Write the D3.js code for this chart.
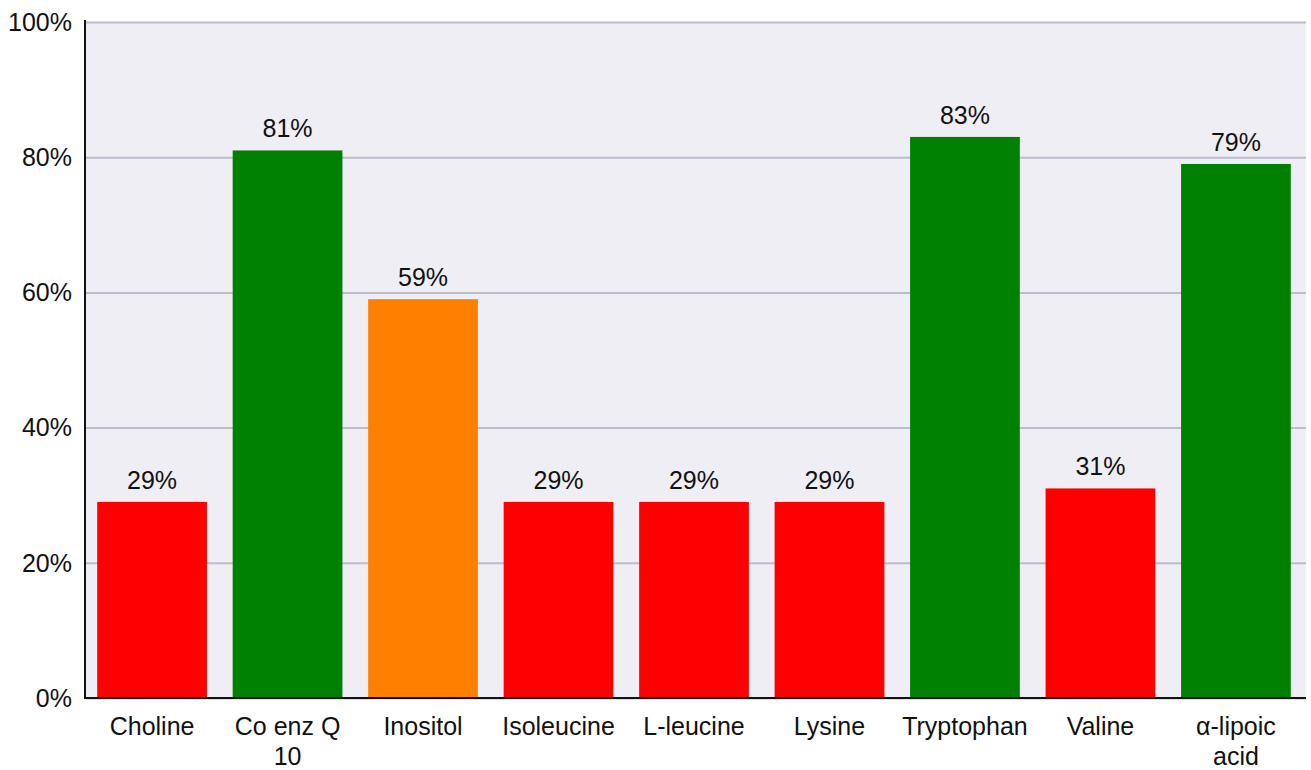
<!DOCTYPE html>
<html>
<head>
<meta charset="utf-8">
<script src="https://d3js.org/d3.v7.min.js"></script>
<style>
body{margin:0;background:#fff;font-family:"Liberation Sans",Arial,sans-serif;}
</style>
</head>
<body>
<svg id="chart" width="1311" height="770"></svg>
<script>
var categories = ["Choline", "Co enz Q 10", "Inositol", "Isoleucine", "L-leucine", "Lysine", "Tryptophan", "Valine", "\u03b1-lipoic acid"];
var labelLines = [["Choline"], ["Co enz Q", "10"], ["Inositol"], ["Isoleucine"], ["L-leucine"], ["Lysine"], ["Tryptophan"], ["Valine"], ["\u03b1-lipoic", "acid"]];
var values = [29, 81, 59, 29, 29, 29, 83, 31, 79];
var barColors = ["#ff0000", "#008000", "#ff8000", "#ff0000", "#ff0000", "#ff0000", "#008000", "#ff0000", "#008000"];
var yTicks = [0, 20, 40, 60, 80, 100];

var svg = d3.select("#chart");
var plotL = 85, plotR = 1306, plotT = 22, plotB = 698;
var fs = 25;

var x = d3.scaleBand().domain(categories).range([plotL, plotR - 3]).paddingInner(0.19).paddingOuter(0.09);
var y = d3.scaleLinear().domain([0, 100]).range([plotB, plotT]);

svg.append("rect").attr("x", plotL).attr("y", plotT).attr("width", plotR - plotL).attr("height", plotB - plotT).attr("fill", "#efeef4");

// gridlines
svg.append("g").selectAll("line").data(yTicks).enter().append("line")
  .attr("x1", plotL).attr("x2", plotR)
  .attr("y1", function(d){ return y(d) + 0.5; }).attr("y2", function(d){ return y(d) + 0.5; })
  .attr("stroke", "#bcbccf").attr("stroke-width", 2);

// tick labels
svg.append("g").selectAll("text").data(yTicks).enter().append("text")
  .attr("x", 72).attr("y", function(d){ return y(d); })
  .attr("dy", "0.35em").attr("text-anchor", "end")
  .attr("font-size", fs).attr("fill", "#111")
  .text(function(d){ return d + "%"; });

// bars
svg.append("g").selectAll("rect").data(values).enter().append("rect")
  .attr("x", function(d, i){ return x(categories[i]); })
  .attr("y", function(d){ return y(d); })
  .attr("width", x.bandwidth())
  .attr("height", function(d){ return y(0) - y(d); })
  .attr("fill", function(d, i){ return barColors[i]; });

// value labels
svg.append("g").selectAll("text").data(values).enter().append("text")
  .attr("x", function(d, i){ return x(categories[i]) + x.bandwidth() / 2; })
  .attr("y", function(d){ return y(d) - 13; })
  .attr("text-anchor", "middle").attr("font-size", fs).attr("fill", "#111")
  .text(function(d){ return d + "%"; });

// axes lines
svg.append("line").attr("x1", plotL).attr("x2", plotL).attr("y1", plotT - 2).attr("y2", plotB + 1)
  .attr("stroke", "#111").attr("stroke-width", 2);
svg.append("line").attr("x1", plotL).attr("x2", plotR).attr("y1", plotB).attr("y2", plotB)
  .attr("stroke", "#111").attr("stroke-width", 2);

// category labels
var cat = svg.append("g").selectAll("text").data(categories).enter().append("text")
  .attr("x", function(d){ return x(d) + x.bandwidth() / 2; })
  .attr("y", 735)
  .attr("text-anchor", "middle").attr("font-size", fs).attr("fill", "#111");
cat.each(function(d, i){
  var t = d3.select(this);
  labelLines[i].forEach(function(s, j){
    t.append("tspan").attr("x", x(d) + x.bandwidth() / 2).attr("dy", j === 0 ? 0 : 30).text(s);
  });
});
</script>
</body>
</html>
